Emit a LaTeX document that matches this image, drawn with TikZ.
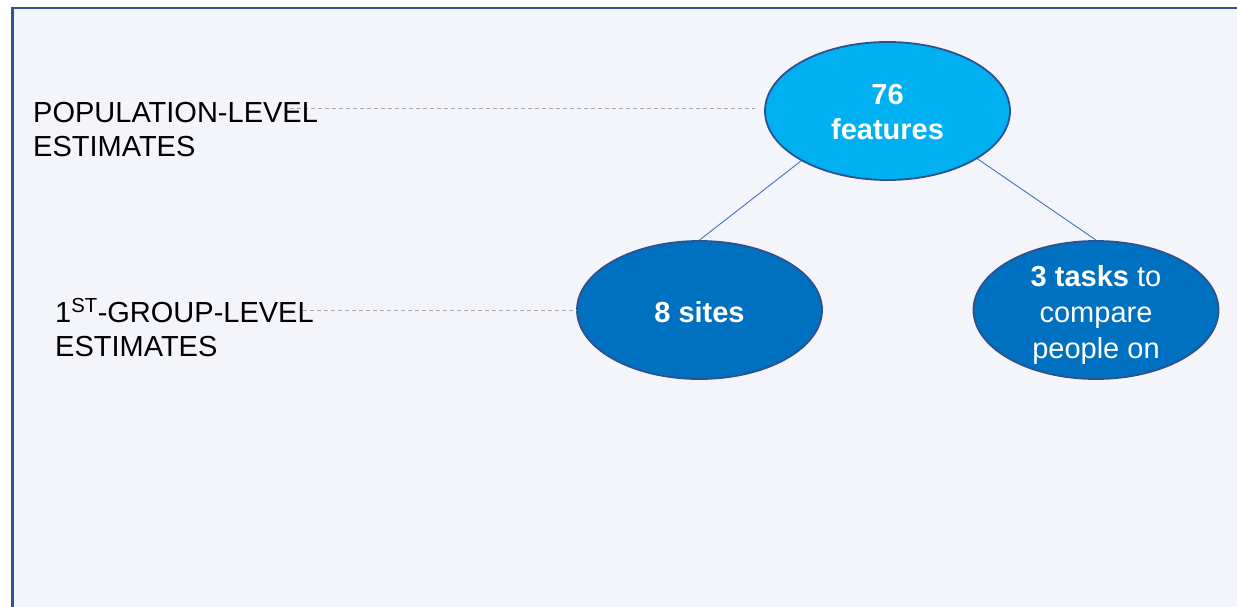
\documentclass[tikz,border=0pt]{standalone}
\usepackage{fontspec}
\setmainfont{Liberation Sans}
\usetikzlibrary{shapes.geometric}
\definecolor{framec}{HTML}{2F5597}
\definecolor{bgc}{HTML}{F4F5FA}
\definecolor{topfill}{HTML}{00B0F0}
\definecolor{lowfill}{HTML}{0070C0}
\definecolor{edgec}{HTML}{2F528F}
\definecolor{linkc}{HTML}{4472C4}
\definecolor{dashc}{HTML}{A6A6A6}
\begin{document}
\begin{tikzpicture}[x=1pt,y=-1pt,
  bubble/.style={ellipse, draw=edgec, line width=1.8pt, minimum width=245pt, minimum height=138pt, inner sep=0pt},
  inbubble/.style={text=white, font=\fontsize{29}{35.5}\selectfont, align=center},
  levellabel/.style={font=\fontsize{29}{34.5}\selectfont, align=left, anchor=base west, inner sep=0pt},
  link/.style={draw=linkc, line width=0.9pt},
  guide/.style={draw=dashc, line width=0.9pt, dash pattern=on 4pt off 3pt}]
\useasboundingbox (0,0) rectangle (1237,607);
\fill[white] (0,0) rectangle (1237,607);
\draw[framec, line width=2.8pt, fill=bgc] (12.5,8) rectangle (1300,700);

\node[bubble, fill=topfill, label={[inbubble, yshift=-1.5pt, font=\fontsize{29}{35}\selectfont\bfseries]center:{76\\features}}] (top) at (887.5,111) {};
\node[bubble, fill=lowfill, label={[inbubble, yshift=-2pt, font=\fontsize{29}{35}\selectfont\bfseries]center:{8 sites}}] (sites) at (699.5,310) {};
\node[bubble, fill=lowfill, label={[inbubble, yshift=-5pt]center:{\textbf{3 tasks} to\\compare\\people on}}] (tasks) at (1096,310) {};

\coordinate (g1a) at (290,108.3);
\coordinate (g1b) at (755,108.3);
\coordinate (g2a) at (303,310);
\draw[guide] (g1a) -- (g1b);
\draw[guide] (g2a) -- (sites.west);

\node[levellabel] (pop) at (33,157) {POPULATION-LEVEL\\ESTIMATES};
\node[levellabel] (grp) at (55,356.5) {1\textsuperscript{ST}-GROUP-LEVEL\\ESTIMATES};

\draw[link] (top.210) -- (sites.north);
\draw[link] (top.332) -- (tasks.north);
\end{tikzpicture}
\end{document}
